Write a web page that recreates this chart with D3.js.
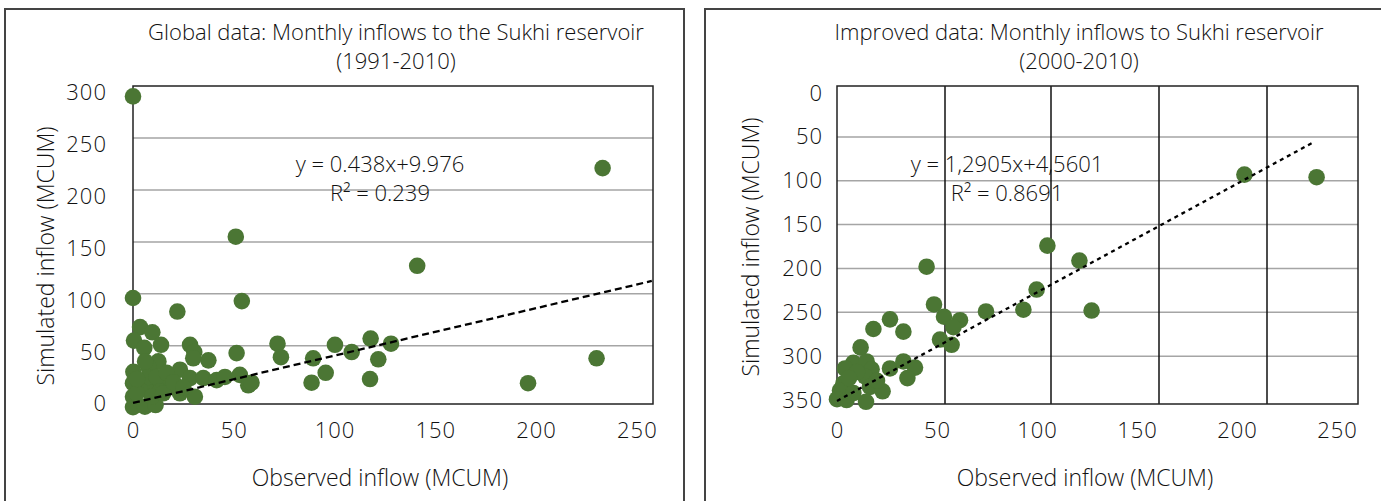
<!DOCTYPE html>
<html><head><meta charset="utf-8">
<script src="https://cdn.jsdelivr.net/npm/d3@7"></script>
<style>
html,body{margin:0;padding:0;background:#fff;}
svg text{font-family:"Open Sans",sans-serif;fill:#111;font-weight:350;}
</style></head>
<body><svg id="c" width="1381" height="501"></svg>
<script>
// ---------- data ----------
const leftTitle = ["Global data: Monthly inflows to the Sukhi reservoir", "(1991-2010)"];
const rightTitle = ["Improved data: Monthly inflows to Sukhi reservoir", "(2000-2010)"];
const xAxisTitle = "Observed inflow (MCUM)";
const yAxisTitle = "Simulated inflow (MCUM)";
const leftEquation = ["y = 0.438x+9.976", "R² = 0.239"];
const rightEquation = ["y = 1,2905x+4,5601", "R² = 0.8691"];

const xTicks = [0, 50, 100, 150, 200, 250];
const leftYTicks = [0, 50, 100, 150, 200, 250, 300];
const rightYTicks = [0, 50, 100, 150, 200, 250, 300, 350];
const leftYGrid = [50, 100, 150, 200, 250];
const rightYGrid = [50, 100, 150, 200, 250, 300];
const rightXGrid = [54, 107, 161, 215];

const leftObserved = [0,51,233,141,0,54,22,3.5,9.6,0.5,13.9,5.6,28.3,30.4,29.9,37.4,51.4,71.7,73.4,89.4,100.2,108.5,117.9,128,121.7,95.6,88.6,117.6,196,230,12.6,7.6,0.2,17.5,23.3,28.3,34.9,41.5,45.6,53,57.2,58.8,30.7,23.3,0,0,0,5.9,11.2,4.3,9.3,14.2,19.2,7.6,11.7,3.4,13.4,16.7,9.3,15,1.8,20,25,6,2];
const leftSimulated = [290,155,221,127,96,93,83,68,63,55,51,48,51,44,38,36,43,52,39,38,51,44,57,52,37,24,14.5,18,14,38,35,30,25,22,27,19,19,17,20,22,12,14.5,1,4.3,14,1,-9,-8.5,-7,10.7,14,10.7,10.7,20,20,7.5,6,24,1,4.3,4.3,15,10,35,18];

const rightObserved = [44.8,48.5,53.5,61.5,58.2,51.5,57.3,74.5,93.2,99.8,121.2,127.3,105.2,203.7,239.8,26.5,18.2,33.2,11.8,8.2,14.8,4,17.3,26.5,33.2,39,35.2,14,3.2,1.5,16.5,22.8,0,4.8,14.5,8.2,10,20,6];
const rightSimulated = [198,241,255,259,267,281,287,249,247,224,191,248,174,93,96,258,269,272,290,307.5,306,314,315,314,306,313,325,323,331,339,335,340,349,350,352,342,318,328,325];

const leftTrendX = [0, 257.4], leftTrendY = [-5, 112.4];
const rightTrendX = [0, 237.5], rightTrendY = [351, 57];

// ---------- drawing ----------
const svg = d3.select("#c");
const green = "#4b7634";

function chart(o) {
  const g = svg.append("g");
  // outer frame
  g.append("rect").attr("x", o.frame[0]).attr("y", o.frame[1]).attr("width", o.frame[2]).attr("height", o.frame[3])
    .attr("fill", "none").attr("stroke", "#444").attr("stroke-width", 2);
  const x = d3.scaleLinear().domain(o.xDomain).range([o.plot.x0, o.plot.x1]);
  const y = d3.scaleLinear().domain(o.yDomain).range(o.yRange);

  // horizontal grid
  g.selectAll(".hg").data(o.yGrid).join("line")
    .attr("x1", o.plot.x0).attr("x2", o.plot.x1).attr("y1", d => y(d)).attr("y2", d => y(d))
    .attr("stroke", "#a5a5a5").attr("stroke-width", 1.5);
  // vertical grid
  g.selectAll(".vg").data(o.xGrid || []).join("line")
    .attr("y1", o.plot.y0).attr("y2", o.plot.y1).attr("x1", d => x(d)).attr("x2", d => x(d))
    .attr("stroke", "#111").attr("stroke-width", 1.5);
  // plot border
  g.append("rect").attr("x", o.plot.x0).attr("y", o.plot.y0)
    .attr("width", o.plot.x1 - o.plot.x0).attr("height", o.plot.y1 - o.plot.y0)
    .attr("fill", "none").attr("stroke", "#222").attr("stroke-width", 1.5);

  // points
  g.selectAll(".pt").data(o.xs.map((v, i) => [v, o.ys[i]])).join("circle")
    .attr("cx", d => x(d[0])).attr("cy", d => y(d[1])).attr("r", 8.3).attr("fill", green);

  // trendline
  g.append("path").datum(o.tx.map((v, i) => [v, o.ty[i]]))
    .attr("d", d3.line().x(d => x(d[0])).y(d => y(d[1])))
    .attr("fill", "none").attr("stroke", "#000").attr("stroke-width", 2.3)
    .attr("stroke-dasharray", o.dash);

  // axes
  const ax = g.append("g").attr("transform", `translate(0,${o.plot.y1})`)
    .call(d3.axisBottom(x).tickValues(xTicks).tickSize(0).tickPadding(18));
  ax.select(".domain").remove();
  ax.selectAll("text").attr("font-size", 22).attr("font-family", "Open Sans").attr("letter-spacing", 1);
  const ay = g.append("g").attr("transform", `translate(${o.plot.x0},0)`)
    .call(d3.axisLeft(y).tickValues(o.yTicks).tickSize(0).tickPadding(o.yPad));
  ay.select(".domain").remove();
  ay.selectAll("text").attr("font-size", 22).attr("font-family", "Open Sans").attr("letter-spacing", 1).attr("dy", o.yDy);

  // titles
  g.append("text").attr("x", o.titleX).attr("y", 40).attr("text-anchor", "middle").attr("font-size", 22)
    .text(o.title[0]);
  g.append("text").attr("x", o.titleX).attr("y", 69).attr("text-anchor", "middle").attr("font-size", 22)
    .text(o.title[1]);
  // axis titles
  g.append("text").attr("x", o.xTitleX).attr("y", 486).attr("text-anchor", "middle").attr("font-size", 23)
    .text(xAxisTitle);
  g.append("text").attr("transform", `translate(${o.yTitleX},${o.yTitleY}) rotate(-90)`)
    .attr("text-anchor", "middle").attr("font-size", 23).text(yAxisTitle);
  // equation
  g.append("text").attr("x", o.eqX).attr("y", 172).attr("text-anchor", "middle").attr("font-size", 22).text(o.eq[0]);
  g.append("text").attr("x", o.eqX).attr("y", 201).attr("text-anchor", "middle").attr("font-size", 22).text(o.eq[1]);
}

chart({
  frame: [5, 9, 679, 600],
  plot: {x0: 133, x1: 653, y0: 86, y1: 404},
  xDomain: [0, 258], yDomain: [-6, 300], yRange: [404, 86],
  yGrid: leftYGrid, yTicks: leftYTicks, yPad: 26, yDy: "0.6em",
  xs: leftObserved, ys: leftSimulated, tx: leftTrendX, ty: leftTrendY, dash: "7,4",
  title: leftTitle, titleX: 396, xTitleX: 380, yTitleX: 54, yTitleY: 256,
  eq: leftEquation, eqX: 380
});
chart({
  frame: [705, 9, 700, 600],
  plot: {x0: 837, x1: 1358, y0: 86, y1: 404},
  xDomain: [0, 260.5], yDomain: [-8, 354.5], yRange: [86, 404],
  yGrid: rightYGrid, xGrid: rightXGrid, yTicks: rightYTicks, yPad: 14, yDy: "0.32em",
  xs: rightObserved, ys: rightSimulated, tx: rightTrendX, ty: rightTrendY, dash: "4,4",
  title: rightTitle, titleX: 1079, xTitleX: 1085, yTitleX: 759, yTitleY: 247,
  eq: rightEquation, eqX: 1007
});
</script></body></html>
